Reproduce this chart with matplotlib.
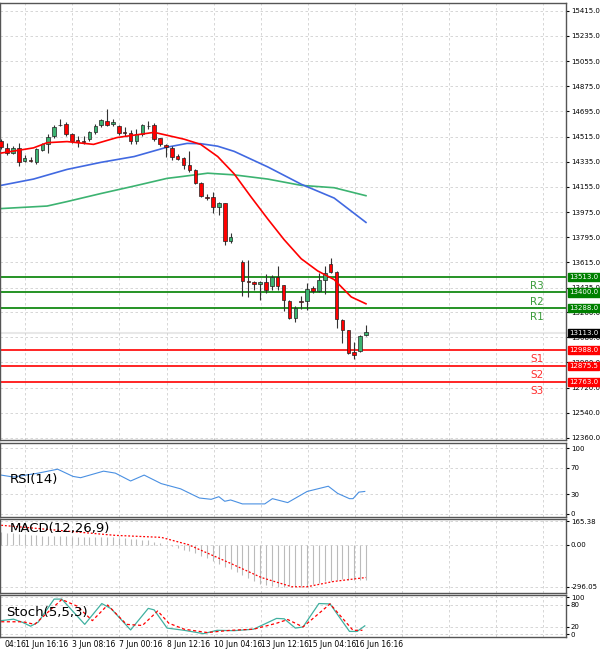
import matplotlib
matplotlib.use("Agg")
import matplotlib.pyplot as plt
import numpy as np

# candle slots (slot 40 is empty)
idx = list(range(0, 40)) + list(range(41, 63))
opens = [14484, 14434, 14397, 14434, 14340, 14347, 14335, 14422, 14464, 14521,
         14595, 14607, 14533, 14488, 14484, 14496, 14545, 14595, 14627, 14602,
         14588, 14545, 14538, 14484, 14533, 14588, 14595, 14503, 14454, 14434,
         14379, 14365, 14310, 14273, 14186, 14082, 14082, 14013, 14037, 13765,
         13621, 13480, 13472, 13463, 13472, 13448, 13512, 13450, 13339, 13220,
         13339, 13339, 13433, 13413, 13492, 13604, 13547, 13202, 13133, 12972,
         12984, 13096]
closes = [14439, 14397, 14434, 14335, 14365, 14340, 14429, 14459, 14513, 14583,
          14600, 14533, 14484, 14476, 14479, 14545, 14588, 14632, 14600, 14620,
          14538, 14540, 14484, 14533, 14595, 14593, 14496, 14459, 14439, 14372,
          14355, 14310, 14273, 14186, 14087, 14077, 14008, 14037, 13765, 13797,
          13480, 13475, 13463, 13477, 13418, 13510, 13448, 13344, 13215, 13289,
          13331, 13423, 13413, 13492, 13542, 13547, 13207, 13133, 12967, 12955,
          13091, 13116]
highs = [14496, 14471, 14446, 14471, 14384, 14372, 14434, 14471, 14533, 14595,
         14637, 14620, 14538, 14521, 14521, 14558, 14603, 14637, 14711, 14637,
         14595, 14583, 14563, 14570, 14607, 14625, 14612, 14508, 14464, 14446,
         14389, 14372, 14409, 14285, 14191, 14107, 14117, 14045, 14037, 13827,
         13629, 13629, 13480, 13485, 13530, 13522, 13587, 13455, 13344, 13306,
         13373, 13468, 13448, 13542, 13587, 13646, 13554, 13207, 13133, 13046,
         13096, 13170]
lows = [14429, 14384, 14389, 14305, 14330, 14330, 14322, 14409, 14397, 14508,
        14588, 14521, 14471, 14439, 14464, 14484, 14533, 14583, 14593, 14588,
        14528, 14521, 14459, 14464, 14521, 14570, 14484, 14446, 14372, 14347,
        14347, 14285, 14265, 14174, 14082, 14062, 13968, 13951, 13740, 13752,
        13373, 13368, 13418, 13349, 13398, 13418, 13418, 13269, 13207, 13190,
        13282, 13274, 13398, 13406, 13386, 13542, 13145, 13041, 12960, 12922,
        12977, 13091]

# moving averages, sampled along the curves
ma_red_x = [0, 5.5, 7.8, 11.2, 15.7, 19.7, 26, 31.1, 33.9, 36.8, 39.6, 42.4, 45.3, 48.1, 51, 53.8, 56.6, 59.5, 62]
ma_red_y = [14397, 14434, 14471, 14479, 14459, 14508, 14545, 14496, 14459, 14372, 14248, 14087, 13926, 13777,
            13641, 13554, 13492, 13368, 13319]
ma_blue_x = [0, 5.5, 11.2, 16.9, 22.6, 28.2, 31.6, 33.9, 36.8, 39.6, 45.3, 51, 56.6, 62]
ma_blue_y = [14166, 14211, 14280, 14330, 14372, 14439, 14466, 14464, 14446, 14409, 14298, 14174, 14075, 13901]
ma_green_x = [0, 7.8, 11.2, 16.9, 22.6, 28.2, 31.1, 35.1, 39.6, 45.3, 51, 56.6, 62]
ma_green_y = [14000, 14018, 14050, 14107, 14161, 14216, 14231, 14253, 14241, 14211, 14166, 14149, 14092]

res_levels = [13513.0, 13400.0, 13288.0]
res_names = ["R3", "R2", "R1"]
sup_levels = [12988.0, 12875.5, 12763.0]
sup_names = ["S1", "S2", "S3"]
last_price = 13113.0
price_ticks = [15415, 15235, 15055, 14875, 14695, 14515, 14335, 14155, 13975, 13795,
               13615, 13435, 13260, 13080, 12900, 12720, 12540, 12360]

rsi_x = [0, 2.1, 6.3, 9.6, 12.2, 13.5, 17.4, 19.4, 22, 24.3, 27.2, 30.5, 33.7, 35.7, 37, 38, 39, 41,
         44.8, 46.1, 48.7, 52, 55.6, 57.2, 59.2, 59.8, 60.8, 61.8]
rsi_y = [59, 56, 62, 68, 57, 55, 65, 62, 50, 59, 46, 38, 24, 22, 26, 19, 21, 15,
         15, 23, 17, 34, 42, 31, 23, 23, 33, 34]

macd_hist = [87, 84, 80, 76, 73, 69, 65, 63, 62, 60, 59, 58, 57, 56, 55, 54, 53, 52, 51, 51,
             48, 45, 41, 38, 35, 31, 20, 10, 0, -12, -24, -36, -48, -60, -77, -95, -118,
             -136, -154, -171, -189, -210, -232, -253, -274, -282, -290, -296, -295, -294,
             -292, -290, -288, -280, -270, -259, -254, -250, -245, -247, -249, -250, -251]
sig_x = [0, 19.4, 27.2, 31.8, 39, 44.2, 49.4, 52, 56.5, 62]
sig_y = [136, 65, 51, 0, -132, -231, -296, -296, -259, -231]

k_x = [0, 2.1, 3.7, 5, 6.3, 9, 10.3, 14.2, 17.1, 18.7, 22, 25, 26, 28.2, 31.1, 34.4, 36.7, 39.6,
       42.9, 46.8, 48.1, 50, 51.3, 54, 55.9, 59.2, 60.5, 61.8]
k_y = [37, 41, 32, 22, 33, 95, 95, 27, 83, 69, 12, 70, 66, 17, 11, 2, 11, 10,
       14, 43, 42, 17, 20, 83, 82, 8, 8, 23]
d_x = [0, 3.7, 5.7, 10.3, 12.9, 15.5, 18.1, 21.3, 24, 26.6, 28.5, 31.1, 35, 39, 42.9, 46.8, 48.7,
       51.3, 55.9, 59.8, 61.4]
d_y = [34, 34, 27, 94, 76, 37, 79, 27, 24, 63, 30, 14, 5, 11, 14, 30, 40, 20, 82, 11, 11]

date_labels = ["04:16", "1 Jun 16:16", "3 Jun 08:16", "7 Jun 00:16", "8 Jun 12:16",
               "10 Jun 04:16", "13 Jun 12:16", "15 Jun 04:16", "16 Jun 16:16"]

W, H = 600, 654
fig = plt.figure(figsize=(6, 6.54), dpi=100)
fig.patch.set_facecolor("white")
XMAX = 96
axes = []


def panel(top, bottom):
    ax = fig.add_axes([0, 1 - bottom / H, 566 / W, (bottom - top) / H])
    ax.yaxis.tick_right()
    ax.tick_params(axis="y", labelsize=5, length=2, pad=1.5)
    ax.set_xticks(np.arange(-3.9, XMAX, 8))
    ax.tick_params(axis="x", length=0, labelbottom=False)
    ax.grid(True, color="#d0d0d0", ls=(0, (3, 3)), lw=0.6)
    for s in ax.spines.values():
        s.set_color("#555555")
        s.set_linewidth(1.0)
    axes.append(ax)
    return ax


ax = panel(3, 440)
ax.set_ylim(12345, 15470)
ax.set_yticks(price_ticks)
ax.set_yticklabels([f"{p}.0" for p in price_ticks])
for i, o, c, h, l in zip(idx, opens, closes, highs, lows):
    ax.vlines(i, l, h, color="#333333", lw=0.8, zorder=3)
    col = "#3cb371" if c >= o else "#ff0000"
    ax.bar(i, max(abs(c - o), 4), bottom=min(o, c), width=0.6, color=col,
           edgecolor="#222222", lw=0.5, zorder=4)
ax.plot(ma_green_x, ma_green_y, color="#3cb371", lw=1.2, zorder=2)
ax.plot(ma_blue_x, ma_blue_y, color="#4169e1", lw=1.2, zorder=2)
ax.plot(ma_red_x, ma_red_y, color="#ff0000", lw=1.2, zorder=5)
ax.axhline(last_price, color="#e8e8e8", lw=1.5, zorder=1)
for lv, nm in zip(res_levels, res_names):
    ax.axhline(lv, color="#008000", lw=1.2, zorder=2)
    ax.text(91, lv - 30, nm, color="#3c9c3c", fontsize=7.5, ha="center", va="top")
for lv, nm in zip(sup_levels, sup_names):
    ax.axhline(lv, color="#ff0000", lw=1.2, zorder=2)
    ax.text(91, lv - 30, nm, color="#ff3030", fontsize=7.5, ha="center", va="top")


def price_box(v, fc, txt):
    ax.annotate(txt, xy=(1.0, v), xycoords=("axes fraction", "data"), xytext=(2.5, 0),
                textcoords="offset points", fontsize=5, color="white", va="center",
                bbox=dict(boxstyle="square,pad=0.15", fc=fc, ec=fc), zorder=10)


for lv in res_levels:
    price_box(lv, "#008000", f"{lv:.1f}")
for lv in sup_levels:
    price_box(lv, "#ff0000", f"{lv:.1f}")
price_box(last_price, "#000000", f"{last_price:.1f}")

# RSI
ax2 = panel(443, 517)
ax2.set_ylim(-5, 108)
ax2.set_yticks([0, 30, 70, 100])
ax2.plot(rsi_x, rsi_y, color="#4a90e2", lw=0.8)
ax2.text(1.5, 52, "RSI(14)", fontsize=9.5, va="center")

# MACD
ax3 = panel(519, 593)
ax3.set_ylim(-340, 180)
ax3.set_yticks([165.38, 0, -296.05])
ax3.set_yticklabels(["165.38", "0.00", "-296.05"])
ax3.vlines(range(len(macd_hist)), 0, macd_hist, color="#bbbbbb", lw=0.8)
ax3.plot(sig_x, sig_y, color="#ff0000", lw=0.9, ls=(0, (1.5, 1.5)))
ax3.text(1.5, 115, "MACD(12,26,9)", fontsize=9.5, va="center")

# Stochastic
ax4 = panel(595, 637)
ax4.set_ylim(-7, 106)
ax4.set_yticks([0, 20, 80, 100])
ax4.plot(k_x, k_y, color="#40b0a0", lw=0.9)
ax4.plot(d_x, d_y, color="#ff0000", lw=0.9, ls=(0, (2.5, 2)))
ax4.text(0.8, 58, "Stoch(5,5,3)", fontsize=9.5, va="center")

for a in axes:
    a.set_xlim(-0.2, XMAX)
for j, lab in enumerate(date_labels):
    x = -3.9 + 8 * j
    ax4.text(x if j else 0.5, -14, lab, fontsize=5.5, ha="left", va="top",
             clip_on=False)

fig.savefig("out.png", dpi=100, facecolor="white")
